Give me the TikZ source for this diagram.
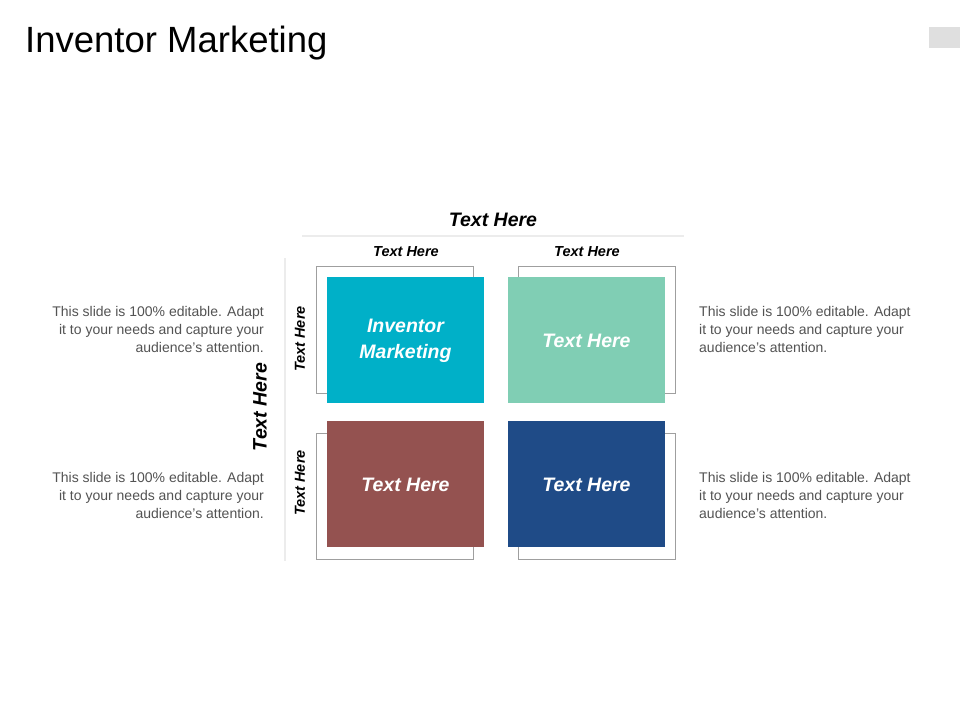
\documentclass[tikz,border=0pt]{standalone}
\usepackage{fontspec}
\setmainfont{Liberation Sans}
\begin{document}
\begin{tikzpicture}[x=1pt,y=-1pt,
  outl/.style={draw=gray!75,line width=0.8pt},
  tl/.style={text=white,font=\bfseries\itshape\fontsize{19.5}{26}\selectfont,align=center},
  hd/.style={font=\bfseries\itshape\fontsize{14.5}{17}\selectfont},
  body/.style={font=\fontsize{14}{18}\selectfont,text=gray!20!black!75}]
\useasboundingbox (0,0) rectangle (960,720);
\fill[white] (0,0) rectangle (960,720);
\fill[gray!25] (929,27) rectangle (960,48);
\node[anchor=west,font=\fontsize{36.5}{40}\selectfont,inner sep=0pt] (title) at (25,43) {Inventor Marketing};
% outlines
\draw[outl] (316,266) rectangle (473,393);
\draw[outl] (518,266) rectangle (675,393);
\draw[outl] (316,433) rectangle (473,559);
\draw[outl] (518,433) rectangle (675,559);
% tiles
\fill[fill={rgb,255:red,0;green,176;blue,200}] (327,277) rectangle (484,403);
\fill[fill={rgb,255:red,128;green,206;blue,180}] (508,277) rectangle (665,403);
\fill[fill={rgb,255:red,148;green,82;blue,80}] (327,421) rectangle (484,547);
\fill[fill={rgb,255:red,31;green,75;blue,135}] (508,421) rectangle (665,547);
\node[tl] (t1) at (405.5,341) {Inventor\\Marketing};
\node[tl] (t2) at (586.5,341) {Text Here};
\node[tl] (t3) at (405.5,485) {Text Here};
\node[tl] (t4) at (586.5,485) {Text Here};
% axes
\draw[gray!15,line width=2pt] (302,236) -- (684,236);
\draw[gray!15,line width=2pt] (285,258) -- (285,561);
\node[font=\bfseries\itshape\fontsize{19.5}{22}\selectfont] (top) at (493,220) {Text Here};
\node[font=\bfseries\itshape\fontsize{19.5}{22}\selectfont,rotate=90] (left) at (260,407) {Text Here};
\node[hd] (c1) at (406,252) {Text Here};
\node[hd] (c2) at (587,252) {Text Here};
\node[hd,rotate=90] (r1) at (300,339) {Text Here};
\node[hd,rotate=90] (r2) at (300,483) {Text Here};
% body texts
\node[body,align=right,anchor=east,inner sep=0pt] (b1) at (264,329) {This slide is 100\% editable. Adapt\\it to your needs and capture your\\audience's attention.};
\node[body,align=right,anchor=east,inner sep=0pt] (b2) at (264,495) {This slide is 100\% editable. Adapt\\it to your needs and capture your\\audience's attention.};
\node[body,align=left,anchor=west,inner sep=0pt] (b3) at (699,329) {This slide is 100\% editable. Adapt\\it to your needs and capture your\\audience's attention.};
\node[body,align=left,anchor=west,inner sep=0pt] (b4) at (699,495) {This slide is 100\% editable. Adapt\\it to your needs and capture your\\audience's attention.};
\end{tikzpicture}
\end{document}
